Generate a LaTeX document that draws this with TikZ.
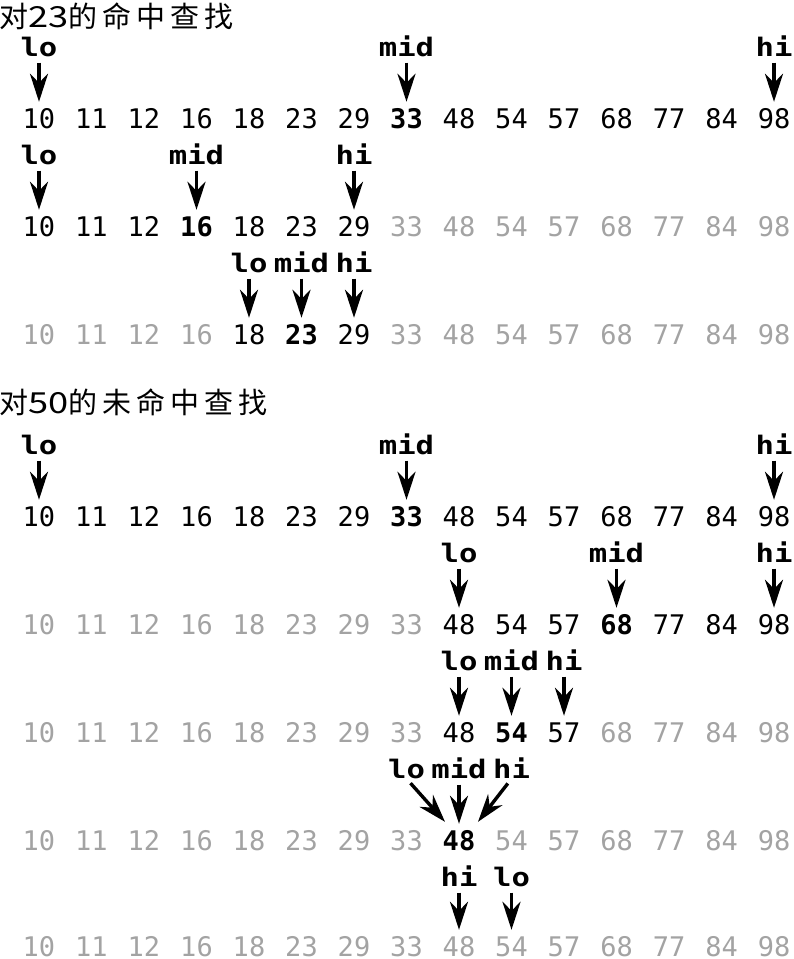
\documentclass[tikz,border=0pt]{standalone}
\usepackage{fontspec}
\usetikzlibrary{arrows.meta}
\newfontfamily\numfont{DejaVu Sans Mono}
\newfontfamily\labfont{DejaVu Sans Mono}[FakeStretch=1.2]
\newfontfamily\cjkfont{Noto Sans CJK SC}[LetterSpace=17]
\newfontfamily\cjkdigits{Noto Sans CJK SC}[FakeStretch=1.25]
\definecolor{dimgray}{gray}{0.64}
\newcommand\numrow[5]{%
  \foreach \v [count=\k from 0] in {10,11,12,16,18,23,29,33,48,54,57,68,77,84,98}{%
    \ifnum\k=#5 \def\st{hit}\else
      \ifnum\k<#3 \def\st{off}\else\ifnum\k>#4 \def\st{off}\else\def\st{num}\fi\fi\fi
    \node[\st] (#1-\k) at (39+52.5*\k, #2) {\v};
  }}
\begin{document}
\begin{tikzpicture}[x=1pt,y=-1pt,
  num/.style={inner sep=0pt, text height=20pt, text depth=0pt, font=\numfont\fontsize{27}{27}\selectfont},
  off/.style={num, text=dimgray},
  hit/.style={num, font=\numfont\bfseries\fontsize{27}{27}\selectfont},
  ptr/.style={inner sep=0pt, text height=19pt, text depth=0pt, font=\labfont\bfseries\fontsize{25.5}{25.5}\selectfont},
  arr/.style={-{Stealth[length=28pt,width=18pt,inset=9pt]}, line width=3.4pt, shorten <=6pt, shorten >=6pt},
  diag/.style={arr, shorten >=0pt},
  title/.style={inner sep=0pt, anchor=west, font=\cjkfont\fontsize{29}{29}\selectfont}]
\useasboundingbox (0,0) rectangle (793,959);
% titles
\node[title] (t1) at (-1,16) {对{\cjkdigits 23}的命中查找};
\node[title] (t2) at (-1,402) {对{\cjkdigits 50}的未命中查找};
% number rows
\numrow{r1}{118}{0}{14}{7}
\numrow{r2}{226}{0}{6}{3}
\numrow{r3}{334}{4}{6}{5}
\numrow{r4}{516}{0}{14}{7}
\numrow{r5}{624}{8}{14}{11}
\numrow{r6}{732}{8}{10}{9}
\numrow{r7}{840}{8}{8}{8}
\numrow{r8}{946}{1}{0}{-1}
% row 1
\node[ptr] (r1lo) at (39,47) {lo};
\node[ptr] (r1mid) at (406.5,47) {mid};
\node[ptr] (r1hi) at (774,47) {hi};
\draw[arr] (r1lo.south) -- (r1-0.north);
\draw[arr] (r1mid.south) -- (r1-7.north);
\draw[arr] (r1hi.south) -- (r1-14.north);
% row 2
\node[ptr] (r2lo) at (39,155) {lo};
\node[ptr] (r2mid) at (196.5,155) {mid};
\node[ptr] (r2hi) at (354,155) {hi};
\draw[arr] (r2lo.south) -- (r2-0.north);
\draw[arr] (r2mid.south) -- (r2-3.north);
\draw[arr] (r2hi.south) -- (r2-6.north);
% row 3
\node[ptr] (r3lo) at (249,263) {lo};
\node[ptr] (r3mid) at (301.5,263) {mid};
\node[ptr] (r3hi) at (354,263) {hi};
\draw[arr] (r3lo.south) -- (r3-4.north);
\draw[arr] (r3mid.south) -- (r3-5.north);
\draw[arr] (r3hi.south) -- (r3-6.north);
% row 4
\node[ptr] (r4lo) at (39,445) {lo};
\node[ptr] (r4mid) at (406.5,445) {mid};
\node[ptr] (r4hi) at (774,445) {hi};
\draw[arr] (r4lo.south) -- (r4-0.north);
\draw[arr] (r4mid.south) -- (r4-7.north);
\draw[arr] (r4hi.south) -- (r4-14.north);
% row 5
\node[ptr] (r5lo) at (459,553) {lo};
\node[ptr] (r5mid) at (616.5,553) {mid};
\node[ptr] (r5hi) at (774,553) {hi};
\draw[arr] (r5lo.south) -- (r5-8.north);
\draw[arr] (r5mid.south) -- (r5-11.north);
\draw[arr] (r5hi.south) -- (r5-14.north);
% row 6
\node[ptr] (r6lo) at (459,661) {lo};
\node[ptr] (r6mid) at (511.5,661) {mid};
\node[ptr] (r6hi) at (564,661) {hi};
\draw[arr] (r6lo.south) -- (r6-8.north);
\draw[arr] (r6mid.south) -- (r6-9.north);
\draw[arr] (r6hi.south) -- (r6-10.north);
% row 7
\node[ptr] (r7lo) at (406.5,769) {lo};
\node[ptr] (r7mid) at (459,769) {mid};
\node[ptr] (r7hi) at (511.5,769) {hi};
\draw[diag] (r7lo.south) -- ([xshift=-14pt,yshift=8pt]r7-8.north);
\draw[arr] (r7mid.south) -- (r7-8.north);
\draw[diag] (r7hi.south) -- ([xshift=19pt,yshift=8pt]r7-8.north);
% row 8
\node[ptr] (r8hi) at (459,877) {hi};
\node[ptr] (r8lo) at (511.5,877) {lo};
\draw[arr] (r8hi.south) -- (r8-8.north);
\draw[arr] (r8lo.south) -- (r8-9.north);
\end{tikzpicture}
\end{document}
